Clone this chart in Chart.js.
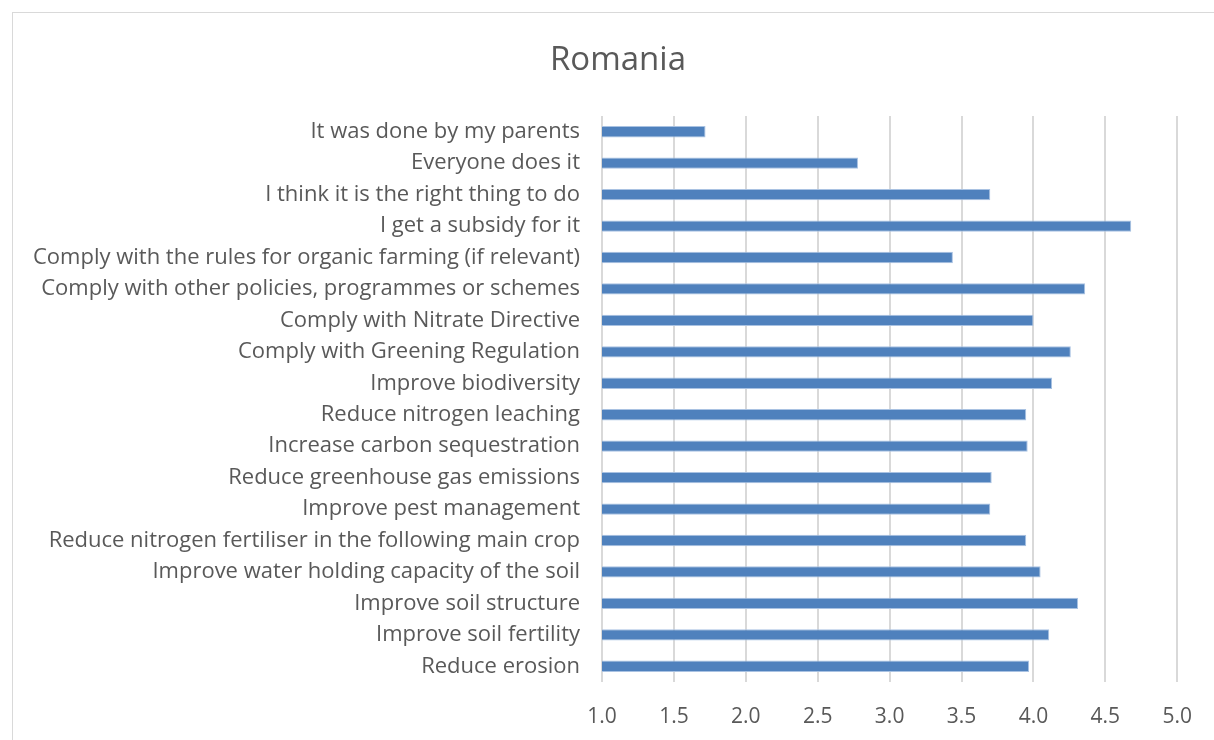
<!DOCTYPE html>
<html>
<head>
<meta charset="utf-8">
<title>Romania</title>
<script src="https://cdn.jsdelivr.net/npm/chart.js@4"></script>
<style>
  html, body { margin: 0; padding: 0; background: #ffffff; overflow: hidden; }
  #frame {
    position: absolute; left: 12px; top: 12px;
    width: 1220px; height: 760px;
    border: 1px solid #d9d9d9;
  }
  #wrap { position: absolute; left: 0; top: 0; width: 1214px; height: 740px; }
</style>
</head>
<body>
<div id="frame"></div>
<div id="wrap"><canvas id="chart" width="1214" height="740"></canvas></div>
<script>
// Reasons listed top to bottom, as in the picture
const reasons = [
    'It was done by my parents',
    'Everyone does it',
    'I think it is the right thing to do',
    'I get a subsidy for it',
    'Comply with the rules for organic farming (if relevant)',
    'Comply with other policies, programmes or schemes',
    'Comply with Nitrate Directive',
    'Comply with Greening Regulation',
    'Improve biodiversity',
    'Reduce nitrogen leaching',
    'Increase carbon sequestration',
    'Reduce greenhouse gas emissions',
    'Improve pest management',
    'Reduce nitrogen fertiliser in the following main crop',
    'Improve water holding capacity of the soil',
    'Improve soil structure',
    'Improve soil fertility',
    'Reduce erosion'
];

// Mean scores
const scores = [
    1.72, 2.78, 3.70, 4.68, 3.44, 4.36, 4.00, 4.26, 4.13,
    3.95, 3.96, 3.71, 3.70, 3.95, 4.05, 4.31, 4.11, 3.97
];

const axisMin = 1.0;
const axisMax = 5.0;
const axisStep = 0.5;

const chartTitle = 'Romania';
const textColor = '#595959';
const fontFamily = '"Open Sans", Lato, sans-serif';

// Title drawn by hand: the built-in one centres on the canvas, the original is
// centred on the bordered box which starts a bit to the right
const titlePlugin = {
    id: 'boxTitle',
    afterDraw: function(chart) {
        const c = chart.ctx;
        c.save();
        c.fillStyle = textColor;
        c.font = '33px ' + fontFamily;
        c.textAlign = 'center';
        c.textBaseline = 'middle';
        c.fillText(chartTitle, 618, 61);
        c.restore();
    }
};

document.addEventListener('DOMContentLoaded', function() {
    const ctx = document.getElementById('chart').getContext('2d');
    new Chart(ctx, {
        type: 'bar',
        data: {
            labels: reasons,
            datasets: [{
                label: chartTitle,
                data: scores,
                backgroundColor: '#4f81bd',
                borderColor: '#a9c2e2',
                borderWidth: 1,
                barPercentage: 0.36,
                categoryPercentage: 1.0
            }]
        },
        options: {
            indexAxis: 'y',
            responsive: false,
            animation: false,
            layout: {
                padding: { left: 0, right: 35, top: 116, bottom: 0 }
            },
            plugins: {
                legend: { display: false },
                tooltip: { enabled: false },
                title: { display: false }
            },
            scales: {
                x: {
                    min: axisMin,
                    max: axisMax,
                    ticks: {
                        stepSize: axisStep,
                        color: textColor,
                        padding: 22,
                        font: { family: fontFamily, size: 21 },
                        callback: function(value) { return Number(value).toFixed(1); }
                    },
                    grid: { color: '#d9d9d9', lineWidth: 2, drawTicks: false },
                    border: { display: false },
                    afterFit: function(scale) { scale.height = 58; }
                },
                y: {
                    ticks: {
                        color: textColor,
                        padding: 22,
                        autoSkip: false,
                        font: { family: fontFamily, size: 22 }
                    },
                    grid: { display: false, drawTicks: false },
                    border: { display: false },
                    afterFit: function(scale) { scale.width = 602; }
                }
            }
        },
        plugins: [titlePlugin]
    });
});
</script>
</body>
</html>
